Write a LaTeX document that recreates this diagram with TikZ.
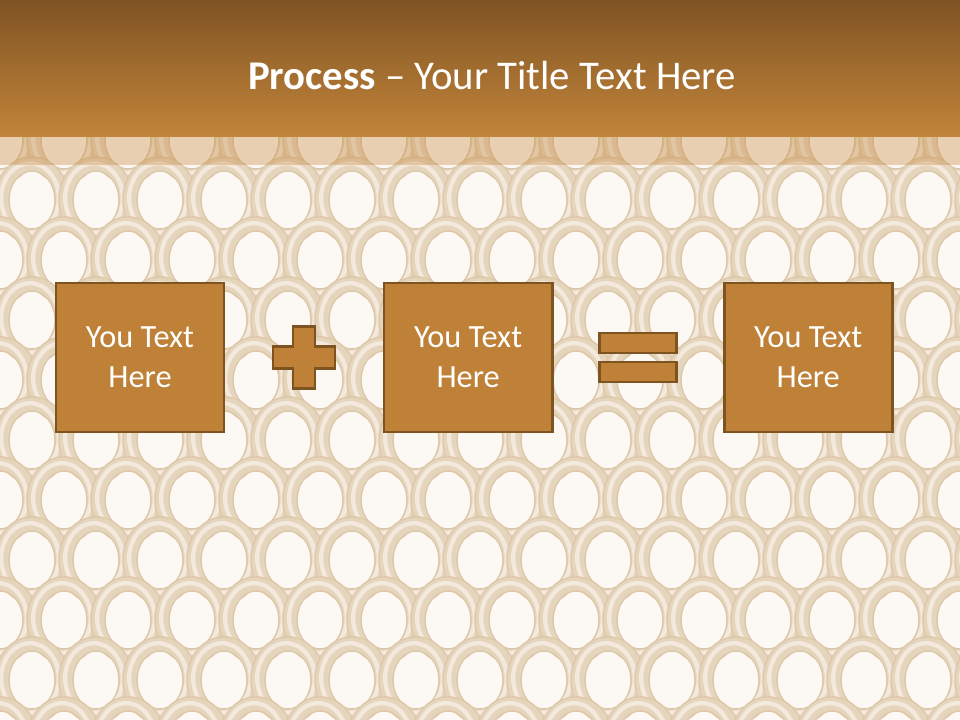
\documentclass[tikz,border=0pt]{standalone}
\usepackage{fontspec}
\setmainfont{Carlito}
\usetikzlibrary{positioning, calc}
\definecolor{barTop}{HTML}{7E5323}
\definecolor{barBot}{HTML}{C3853A}
\definecolor{boxFill}{HTML}{BF8137}
\definecolor{boxLine}{HTML}{7D531F}
\definecolor{paper}{HTML}{FCF8F3}
\definecolor{ringShade}{HTML}{DCC7A9}
\definecolor{ringDark}{HTML}{E6D5BD}
\definecolor{ringLight}{HTML}{F3EADD}

\begin{document}
\begin{tikzpicture}[x=0.025cm, y=-0.025cm,
  stepbox/.style={draw=boxLine, fill=boxFill, line width=2pt, minimum width=4.2cm,
                  minimum height=3.72cm, align=center, text=white, inner sep=0pt,
                  font=\fontsize{23}{28.4}\selectfont},
  sign/.style={draw=boxLine, fill=boxFill, line width=2pt},
  eqbar/.style={sign, minimum width=1.92cm, minimum height=0.5cm, inner sep=0pt},
  ringedge/.style={ringShade, line width=11pt},
  ringout/.style={ringDark, line width=9pt},
  ringin/.style={ringLight, line width=3pt},
  titletxt/.style={text=white, font=\fontsize{29}{33}\selectfont},
]
\useasboundingbox (0,0) rectangle (960,720);

% chainmail background
\fill[paper] (0,137) rectangle (960,720);
\begin{scope}
  \clip (0,137) rectangle (960,720);
  \foreach \r in {0,...,10}{
    \foreach \c in {0,...,15}{
      \pgfmathsetmacro{\xx}{\c*64+mod(\r,2)*32}
      \pgfmathsetmacro{\yy}{140+\r*60}
      \draw[ringedge] (\xx,\yy) ellipse [x radius=0.75cm, y radius=0.9cm];
      \draw[ringout] (\xx,\yy) ellipse [x radius=0.75cm, y radius=0.9cm];
      \draw[ringin] (\xx-2,\yy-2) ellipse [x radius=0.72cm, y radius=0.87cm];
    }
  }
\end{scope}

% title bar and its shadow band
\shade[top color=barTop, bottom color=barBot] (0,0) rectangle (960,137);
\fill[barBot, opacity=0.35] (0,137) rectangle (960,165);
\node[titletxt] (title) at (492,75) {\textbf{Process} -- Your Title Text Here};

% the three boxes
\node[stepbox] (box1) at (140,357.5) {You Text\\Here};
\node[stepbox, right=3.93cm of box1] (box2) {You Text\\Here};
\node[stepbox, right=4.23cm of box2] (box3) {You Text\\Here};

% plus sign
\coordinate (plusC) at ($(box1.east)!0.5!(box2.west)$);
\begin{scope}[shift={(plusC)}]
  \draw[sign] (-11,-31) -- (11,-31) -- (11,-11) -- (31,-11) -- (31,11) -- (11,11)
    -- (11,31) -- (-11,31) -- (-11,11) -- (-31,11) -- (-31,-11) -- (-11,-11) -- cycle;
\end{scope}

% equals sign
\coordinate (eqC) at ($(box2.east)!0.5!(box3.west)$);
\node[eqbar] (eqTop) at ($(eqC)+(0,-14.5)$) {};
\node[eqbar] (eqBot) at ($(eqC)+(0,14.5)$) {};

\end{tikzpicture}
\end{document}
